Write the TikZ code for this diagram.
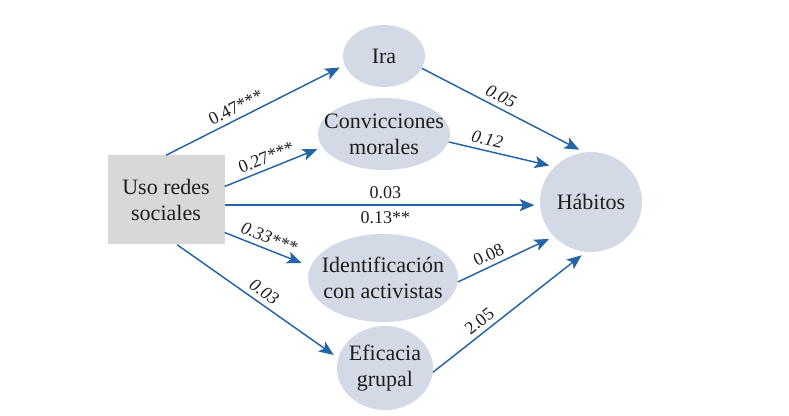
\documentclass[tikz,border=0pt]{standalone}
\usepackage{fontspec}
\setmainfont{Liberation Serif}
\usetikzlibrary{shapes.geometric,arrows.meta}
\definecolor{arrowblue}{HTML}{2465A6}
\definecolor{ellfill}{HTML}{D4DAE5}
\definecolor{boxfill}{HTML}{D8D8D8}
\definecolor{txt}{HTML}{1E1E1E}
\tikzset{
  var/.style={ellipse, fill=ellfill, inner sep=0pt},
  vartext/.style={align=center, text=txt, font=\fontsize{16.5}{19.5}\selectfont, inner sep=0pt},
  srcbox/.style={rectangle, fill=boxfill, minimum width=117*0.75pt, minimum height=89*0.75pt, align=center, text=txt, font=\fontsize{16.5}{20}\selectfont, inner sep=0pt},
  path/.style={draw=arrowblue, line width=1.1pt, -{Stealth[length=11pt,width=9pt,inset=2.5pt]}, shorten >=4pt},
  lab/.style={font=\fontsize{13.5}{15}\selectfont, text=txt, sloped, above, inner sep=3.5pt},
  ilab/.style={lab, font=\fontsize{13.5}{15}\selectfont\itshape}
}
\begin{document}
\begin{tikzpicture}[x=0.75pt,y=-0.75pt]
\useasboundingbox (0,0) rectangle (789,416);
\fill[white] (0,0) rectangle (789,416);

\node[srcbox] (uso) at (166,200) {Uso redes\\sociales};

\node[var, minimum width=82*0.75pt, minimum height=62*0.75pt] (ira) at (384,56) {};
\node[vartext] (iratxt) at (ira) {Ira};

\node[var, minimum width=132*0.75pt, minimum height=72*0.75pt] (conv) at (384,134) {};
\node[vartext] (convtxt) at (conv) {Convicciones\\morales};

\node[var, minimum width=150*0.75pt, minimum height=88*0.75pt] (ident) at (383,278) {};
\node[vartext] (identtxt) at (ident) {Identificación\\con activistas};

\node[var, minimum width=96*0.75pt, minimum height=84*0.75pt] (efic) at (385,368) {};
\node[vartext] (efictxt) at (efic) {Eficacia\\grupal};

\node[var, minimum width=102*0.75pt, minimum height=100*0.75pt] (hab) at (591,202) {};
\node[vartext] (habtxt) at (hab) {Hábitos};

% from Uso redes sociales
\draw[path] (uso.north) -- (ira.193) node[lab, pos=0.42] {0.47***};
\draw[path] (uso.13) -- (conv.192) node[lab, pos=0.47] {0.27***};
\draw[path] (uso.-5) -- (uso.-5 -| hab.west)
  node[lab, pos=0.51, inner sep=4.5pt] {0.03}
  node[lab, below, pos=0.51, inner sep=4.5pt] {0.13**};
\draw[path, shorten >=7pt] (uso.-29.4) -- (ident.171) node[ilab, pos=0.47] {0.33***};
\draw[path] (uso.-76) -- (efic.168) node[ilab, pos=0.5] {0.03};

% to Habitos
\draw[path] (ira.-18) -- (hab.98) node[ilab, pos=0.455] {0.05};
\draw[path] (conv.-7.5) -- (hab.136) node[ilab, pos=0.34] {0.12};
\draw[path] (ident.-3) -- (hab.223) node[lab, pos=0.37] {0.08};
\draw[path] (efic.-5) -- (hab.264) node[lab, pos=0.35] {2.05};
\end{tikzpicture}
\end{document}
